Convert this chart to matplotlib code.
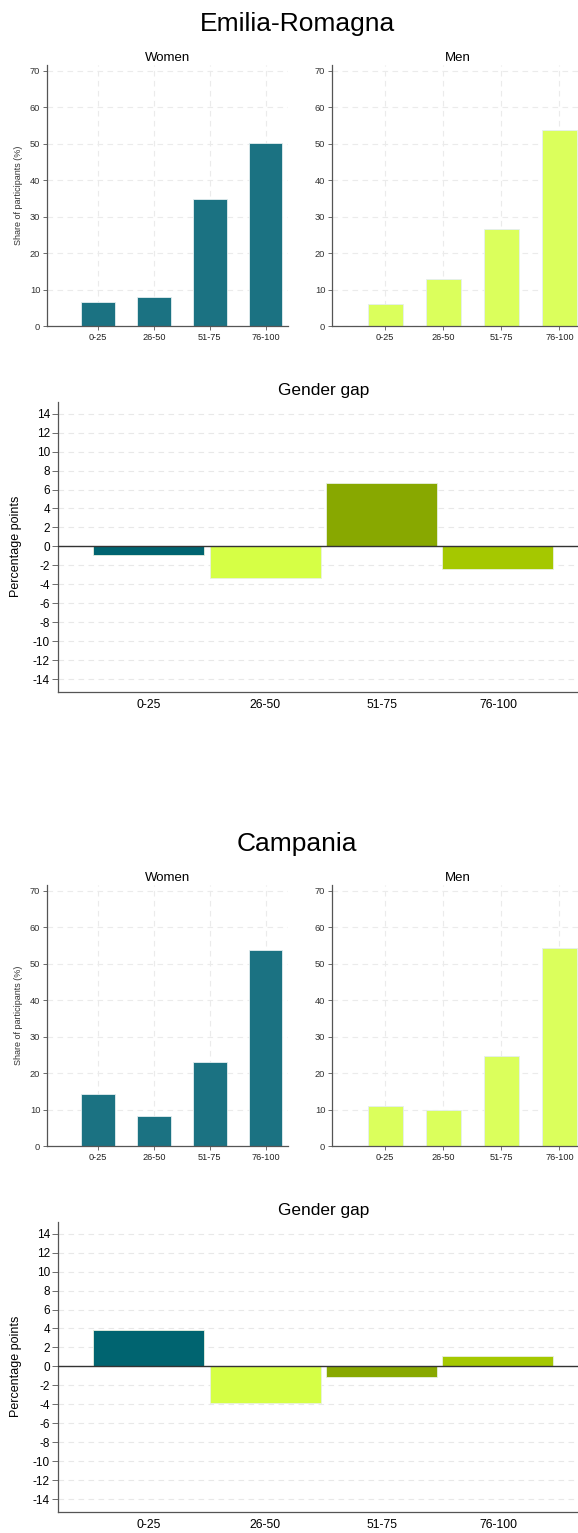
import numpy as np
import matplotlib
matplotlib.use("Agg")
import matplotlib.pyplot as plt

plt.rcParams['font.family'] = ['Liberation Sans', 'DejaVu Sans']
plt.rcParams['axes.unicode_minus'] = False

# data
categories = ['0-25', '26-50', '51-75', '76-100']

er_women = [6.7, 8.0, 34.8, 50.2]
er_men = [6.1, 12.9, 26.6, 53.9]
er_gap = [-0.95, -3.35, 6.65, -2.4]

cam_women = [14.4, 8.3, 23.1, 53.9]
cam_men = [11.0, 9.9, 24.6, 54.2]
cam_gap = [3.8, -3.8, -1.15, 1.1]

women_color = '#1b7282'
men_color = '#dbff5c'
gap_colors = ['#006470', '#d6ff45', '#88a800', '#a5c800']

W, H = 578, 1533
fig = plt.figure(figsize=(W / 100, H / 100), dpi=100)


def box(x0, x1, y0, y1):
    # pixel box -> figure fraction
    return [x0 / W, 1 - y1 / H, (x1 - x0) / W, (y1 - y0) / H]


def share_panel(ax, values, color, title, ylabel=None):
    x = np.arange(len(categories))
    ax.bar(x, values, width=0.6, color=color, edgecolor='#e4eef0', linewidth=0.6, zorder=2)
    ax.set_xlim(-0.912, 3.4)
    ax.set_ylim(0, 71.6)
    ax.set_yticks(np.arange(0, 71, 10))
    ax.set_xticks(x)
    ax.set_xticklabels(categories)
    ax.tick_params(axis='y', labelsize=6.7, length=3, width=0.6, color='#555555', labelcolor='#333333', pad=2)
    ax.tick_params(axis='x', labelsize=6.6, length=3, width=0.6, color='#555555', labelcolor='#222222', pad=2)
    ax.grid(True, color='#ebebeb', linestyle=(0, (5, 4)), linewidth=0.8, zorder=0)
    for s in ['top', 'right']:
        ax.spines[s].set_visible(False)
    for s in ['left', 'bottom']:
        ax.spines[s].set_color('#555555')
        ax.spines[s].set_linewidth(0.9)
    ax.set_title(title, fontsize=9.5, pad=3)
    if ylabel:
        ax.set_ylabel(ylabel, fontsize=6.5, color='#333333')
        ax.yaxis.set_label_coords(-0.10, 0.5)


def gap_panel(ax, values):
    x = np.arange(len(categories))
    ax.bar(x, values, width=0.953, color=gap_colors, edgecolor='#e8f0e0', linewidth=0.6, zorder=2)
    ax.axhline(0, color='#333333', linewidth=1.0, zorder=3)
    ax.set_xlim(-0.777, 3.688)
    ax.set_ylim(-15.3, 15.25)
    ax.set_yticks(np.arange(-14, 15, 2))
    ax.set_xticks(x)
    ax.set_xticklabels(categories)
    ax.tick_params(axis='y', labelsize=8.5, length=4, width=0.6, color='#555555', pad=2)
    ax.tick_params(axis='x', labelsize=8.7, length=0, pad=5)
    ax.yaxis.grid(True, color='#e8e8e8', linestyle=(0, (5, 4)), linewidth=0.8, zorder=0)
    for s in ['top', 'right']:
        ax.spines[s].set_visible(False)
    for s in ['left', 'bottom']:
        ax.spines[s].set_color('#555555')
        ax.spines[s].set_linewidth(0.9)
    ax.set_title('Gender gap', fontsize=12.4, pad=4.5, x=0.51)
    ax.set_ylabel('Percentage points', fontsize=9)
    ax.yaxis.set_label_coords(-0.070, 0.5)


def region(name, women, men, gap, dy):
    fig.text(297 / W, 1 - (23.5 + dy) / H, name, ha='center', va='center', fontsize=19)
    ax_w = fig.add_axes(box(47.3, 288, 65 + dy, 326 + dy))
    share_panel(ax_w, women, women_color, 'Women', 'Share of participants (%)')
    ax_m = fig.add_axes(box(332.3, 582.7, 65 + dy, 326 + dy))
    share_panel(ax_m, men, men_color, 'Men')
    ax_g = fig.add_axes(box(58.3, 578, 401.7 + dy, 691.7 + dy))
    gap_panel(ax_g, gap)


region('Emilia-Romagna', er_women, er_men, er_gap, 0)
region('Campania', cam_women, cam_men, cam_gap, 820)

fig.savefig('out.png', dpi=100, facecolor='white')
